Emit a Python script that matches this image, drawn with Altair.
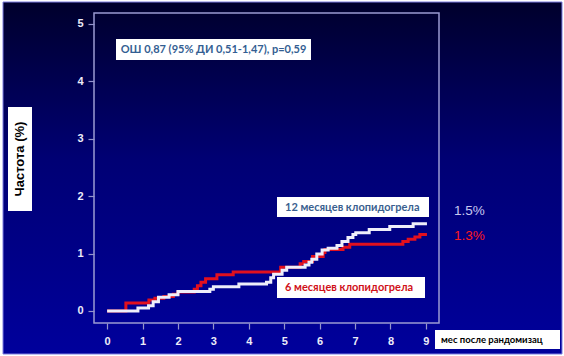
import altair as alt
import pandas as pd

# ---- data ----
months_12_t = [0, 0.87, 1.17, 1.30, 1.45, 1.75, 2.00, 2.90, 3.00, 3.72, 4.50, 4.62, 4.70, 4.94, 5.07,
               5.59, 5.70, 5.78, 5.92, 6.07, 6.24, 6.49, 6.63, 6.80, 6.94, 7.02, 7.40, 7.98, 8.64, 9.03]
months_12_v = [0, 0.05, 0.09, 0.16, 0.24, 0.28, 0.34, 0.38, 0.42, 0.47, 0.50, 0.58, 0.64, 0.71, 0.76,
               0.80, 0.85, 0.90, 0.99, 1.06, 1.09, 1.14, 1.21, 1.28, 1.33, 1.36, 1.42, 1.47, 1.52, 1.52]
months_6_t = [0, 0.53, 1.18, 1.35, 1.60, 1.87, 2.00, 2.46, 2.55, 2.65, 2.78, 3.10, 3.56, 4.90, 5.45,
              5.55, 5.80, 6.10, 6.15, 6.66, 6.85, 8.35, 8.50, 8.69, 8.83, 9.03]
months_6_v = [0, 0.14, 0.19, 0.22, 0.25, 0.29, 0.33, 0.38, 0.44, 0.50, 0.56, 0.63, 0.68, 0.76, 0.82,
              0.86, 0.95, 1.02, 1.07, 1.11, 1.16, 1.21, 1.25, 1.29, 1.33, 1.33]
x_ticks = [0, 1, 2, 3, 4, 5, 6, 7, 8, 9]
y_ticks = [0, 1, 2, 3, 4, 5]

txt_or = "ОШ 0,87 (95% ДИ 0,51-1,47), p=0,59"
txt_12 = "12 месяцев клопидогрела"
txt_6 = "6 месяцев клопидогрела"
txt_15 = "1.5%"
txt_13 = "1.3%"
txt_x = "мес после рандомизац"
txt_y = "Частота (%)"

df12 = pd.DataFrame({"t": months_12_t, "v": months_12_v})
df6 = pd.DataFrame({"t": months_6_t, "v": months_6_v})
one = pd.DataFrame({"a": [0]})

W, H = 345, 310
xs = alt.Scale(domain=[-0.37, 9.37], nice=False, zero=False)
ys = alt.Scale(domain=[-0.21, 5.19], nice=False, zero=False)

axis_common = dict(domain=False, grid=False, title=None, zindex=1, labelColor="#ececf8",
                   labelFont="Liberation Sans", labelFontWeight="bold", labelFontSize=11,
                   tickColor="#9494cc", tickSize=6, tickWidth=1.2, format="d",
                   labelOverlap=False)
x_axis = alt.Axis(values=x_ticks, labelPadding=6, **axis_common)
y_axis = alt.Axis(values=y_ticks, labelPadding=5, **axis_common)

bg = alt.Chart(one).mark_rect(
    fill=alt.LinearGradient(gradient="linear",
                            stops=[alt.GradientStop(color="#00002c", offset=0),
                                   alt.GradientStop(color="#000074", offset=0.45),
                                   alt.GradientStop(color="#00009c", offset=1)],
                            x1=0, x2=0, y1=0, y2=1),
    stroke="#7c7ce0", strokeWidth=1
).encode(x=alt.value(-91), x2=alt.value(468), y=alt.value(-11), y2=alt.value(341))

frame = alt.Chart(one).mark_rect(fillOpacity=0, stroke="#9a9ad2", strokeWidth=1.5).encode(
    x=alt.value(0), x2=alt.value(W), y=alt.value(0), y2=alt.value(H))

red = alt.Chart(df6).mark_line(interpolate="step-after", color="#e2101e", strokeWidth=3).encode(
    x=alt.X("t:Q", scale=xs, axis=x_axis), y=alt.Y("v:Q", scale=ys, axis=y_axis))
white = alt.Chart(df12).mark_line(interpolate="step-after", color="#eeeefa", strokeWidth=3).encode(
    x=alt.X("t:Q", scale=xs, axis=x_axis), y=alt.Y("v:Q", scale=ys, axis=y_axis))


def box(x1, x2, y1, y2):
    return alt.Chart(one).mark_rect(fill="white").encode(
        x=alt.value(x1), x2=alt.value(x2), y=alt.value(y1), y2=alt.value(y2))


def label(x, y, text, color, size, align="left", weight="bold", font="Lato", angle=0):
    return alt.Chart(one).mark_text(align=align, baseline="middle", color=color, fontSize=size,
                                    fontWeight=weight, font=font, angle=angle).encode(
        x=alt.value(x), y=alt.value(y), text=alt.value(text))


layers = [
    bg, frame, red, white,
    box(22, 217, 26, 47), label(119.5, 37, txt_or, "#335e92", 11, align="center"),
    box(183, 335, 184, 204), label(191, 194.5, txt_12, "#3a5f8f", 11),
    box(183, 331, 264, 285), label(191, 275, txt_6, "#d01018", 11),
    label(360, 198, txt_15, "#c8c8f0", 13.5, weight="normal", font="Liberation Sans"),
    label(360, 223, txt_13, "#ff1a1a", 13.5, weight="normal", font="Liberation Sans"),
    box(341, 466, 317, 336), label(347, 327, txt_x, "#000000", 9.5),
    box(-86, -62, 94, 198), label(-74, 146, txt_y, "#000000", 13, align="center",
                                  font="Liberation Sans", angle=270),
]

chart = alt.layer(*layers).properties(
    width=W, height=H,
    autosize=alt.AutoSizeParams(type="none"),
    padding={"left": 94, "top": 13, "right": 125, "bottom": 33},
    background="white",
).configure_view(stroke=None)

chart.save("out.html", embed_options={"renderer": "svg", "actions": False})
